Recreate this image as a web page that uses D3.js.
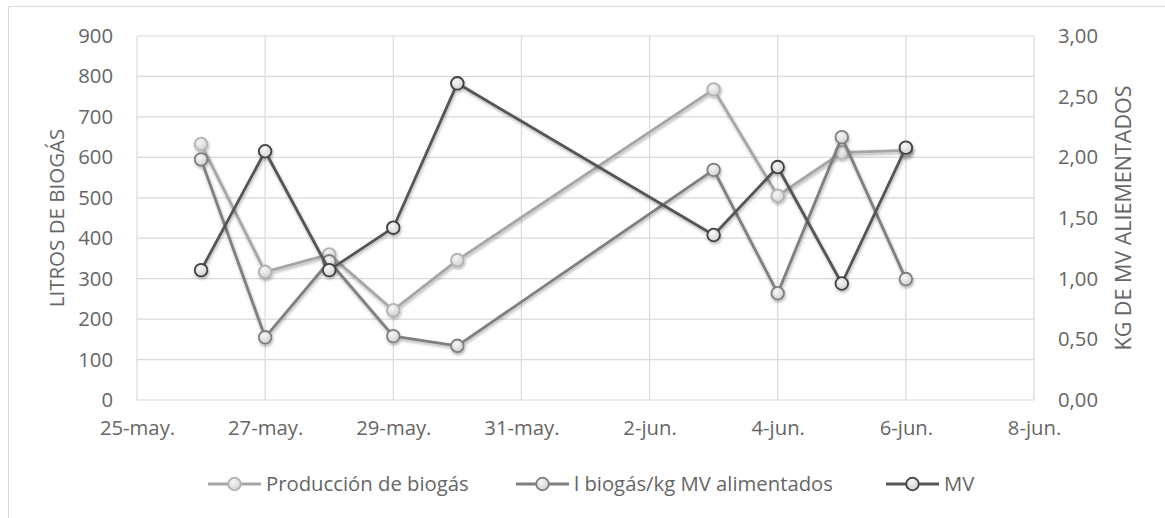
<!DOCTYPE html>
<html>
<head>
<meta charset="utf-8">
<script src="https://cdn.jsdelivr.net/npm/d3@7"></script>
<style>
  html, body { margin: 0; padding: 0; background: #fff; }
  svg { display: block; }
  text { font-family: "Open Sans", "DejaVu Sans", sans-serif; fill: #666666; }
</style>
</head>
<body>
<svg id="chart" width="1165" height="518"></svg>
<script>
// Daily readings
const dates = ["2019-05-26", "2019-05-27", "2019-05-28", "2019-05-29", "2019-05-30",
               "2019-06-03", "2019-06-04", "2019-06-05", "2019-06-06"];
const produccion = [633, 317, 360, 222, 346, 768, 505, 612, 617];   // litros de biogás
const biogasPorKg = [595, 155, 343, 158, 134, 569, 264, 650, 299];  // l biogás / kg MV
const mv = [1.07, 2.05, 1.07, 1.42, 2.61, 1.36, 1.92, 0.96, 2.08];   // kg de MV alimentados

const leftTicks = [0, 100, 200, 300, 400, 500, 600, 700, 800, 900];
const rightTicks = [0, 0.5, 1, 1.5, 2, 2.5, 3];
const xDomain = ["2019-05-25", "2019-06-08"];

const seriesNames = ["Producción de biogás", "l biogás/kg MV alimentados", "MV"];

const parse = d3.timeParse("%Y-%m-%d");
const es = d3.timeFormatLocale({
  dateTime: "%x, %X", date: "%d/%m/%Y", time: "%H:%M:%S", periods: ["AM", "PM"],
  days: ["domingo","lunes","martes","miércoles","jueves","viernes","sábado"],
  shortDays: ["dom","lun","mar","mié","jue","vie","sáb"],
  months: ["enero","febrero","marzo","abril","mayo","junio","julio","agosto","septiembre","octubre","noviembre","diciembre"],
  shortMonths: ["ene","feb","mar","abr","may","jun","jul","ago","sep","oct","nov","dic"]
});
const fmtDate = es.format("%-d-%b.");
const fmtRight = v => d3.format(".2f")(v).replace(".", ",");

const FONT = "20.3px";
const svg = d3.select("#chart");
const plot = { left: 137, right: 1034, top: 36, bottom: 400 };

const x = d3.scaleTime().domain(xDomain.map(parse)).range([plot.left, plot.right]);
const yL = d3.scaleLinear().domain([0, 900]).range([plot.bottom, plot.top]);
const yR = d3.scaleLinear().domain([0, 3]).range([plot.bottom, plot.top]);
const xTicks = d3.timeDay.range(parse(xDomain[0]), d3.timeDay.offset(parse(xDomain[1]), 1), 2);

// Outer chart frame
svg.append("path")
  .attr("d", `M8.5,518 V6.5 H1165`)
  .attr("fill", "none").attr("stroke", "#d9d9d9").attr("stroke-width", 1);

const defs = svg.append("defs");
const shadow = defs.append("filter").attr("id", "shadow")
  .attr("x", "-20%").attr("y", "-20%").attr("width", "140%").attr("height", "140%");
shadow.append("feDropShadow").attr("dx", 0.8).attr("dy", 2).attr("stdDeviation", 1.5)
  .attr("flood-color", "#000").attr("flood-opacity", 0.3);
const grad = defs.append("radialGradient").attr("id", "markerFill")
  .attr("cx", "40%").attr("cy", "35%").attr("r", "70%");
grad.append("stop").attr("offset", "0%").attr("stop-color", "#f7f7f7");
grad.append("stop").attr("offset", "100%").attr("stop-color", "#cfcfcf");

// Gridlines
const grid = svg.append("g").attr("stroke", "#d9d9d9").attr("stroke-width", 1.2);
grid.selectAll("line.h").data(leftTicks).join("line")
  .attr("x1", plot.left).attr("x2", plot.right)
  .attr("y1", d => yL(d)).attr("y2", d => yL(d));
grid.selectAll("line.v").data(xTicks).join("line")
  .attr("x1", d => x(d)).attr("x2", d => x(d))
  .attr("y1", plot.top).attr("y2", plot.bottom);

// Axes
const axisL = svg.append("g").attr("transform", `translate(${plot.left},0)`)
  .call(d3.axisLeft(yL).tickValues(leftTicks).tickSize(0).tickPadding(24));
const axisR = svg.append("g").attr("transform", `translate(${plot.right},0)`)
  .call(d3.axisRight(yR).tickValues(rightTicks).tickFormat(fmtRight).tickSize(0).tickPadding(24));
const axisB = svg.append("g").attr("transform", `translate(0,${plot.bottom})`)
  .call(d3.axisBottom(x).tickValues(xTicks).tickFormat(fmtDate).tickSize(0).tickPadding(21));
[axisL, axisR, axisB].forEach(a => {
  a.select(".domain").remove();
  a.selectAll("text").attr("fill", "#666666").style("font-size", FONT)
    .style("font-family", "'Open Sans', sans-serif");
});
axisR.selectAll("text").attr("text-anchor", "end").attr("dx", 40);

// Axis titles
svg.append("text").attr("transform", `translate(64,218) rotate(-90)`)
  .attr("text-anchor", "middle").style("font-size", "20.5px").text("LITROS DE BIOGÁS");
svg.append("text").attr("transform", `translate(1131,218) rotate(-90)`)
  .attr("text-anchor", "middle").style("font-size", "21.5px").text("KG DE MV ALIEMENTADOS");

// Series
const series = [
  { name: seriesNames[0], values: produccion, y: yL, line: "#a6a6a6", stroke: "#b3b3b3" },
  { name: seriesNames[1], values: biogasPorKg, y: yL, line: "#7f7f7f", stroke: "#7f7f7f" },
  { name: seriesNames[2], values: mv, y: yR, line: "#555555", stroke: "#404040" }
];

series.forEach(s => {
  const pts = dates.map((d, i) => ({ date: parse(d), v: s.values[i] }));
  const line = d3.line().x(d => x(d.date)).y(d => s.y(d.v));
  const g = svg.append("g").attr("filter", "url(#shadow)");
  g.append("path").datum(pts).attr("d", line)
    .attr("fill", "none").attr("stroke", s.line).attr("stroke-width", 2.8)
    .attr("stroke-linejoin", "round");
  g.selectAll("circle").data(pts).join("circle")
    .attr("cx", d => x(d.date)).attr("cy", d => s.y(d.v)).attr("r", 6.3)
    .attr("fill", "url(#markerFill)").attr("stroke", s.stroke).attr("stroke-width", 1.8);
});

// Legend
const legendItems = [
  { s: series[0], x0: 208 },
  { s: series[1], x0: 516 },
  { s: series[2], x0: 886 }
];
const legendY = 484;
legendItems.forEach(item => {
  const g = svg.append("g");
  g.append("line").attr("x1", item.x0).attr("x2", item.x0 + 53)
    .attr("y1", legendY).attr("y2", legendY)
    .attr("stroke", item.s.line).attr("stroke-width", 2.8);
  g.append("circle").attr("cx", item.x0 + 26.5).attr("cy", legendY).attr("r", 6.3)
    .attr("fill", "url(#markerFill)").attr("stroke", item.s.stroke).attr("stroke-width", 1.8);
  g.append("text").attr("x", item.x0 + 58).attr("y", legendY).attr("dy", "0.35em")
    .style("font-size", FONT).text(item.s.name);
});
</script>
</body>
</html>
